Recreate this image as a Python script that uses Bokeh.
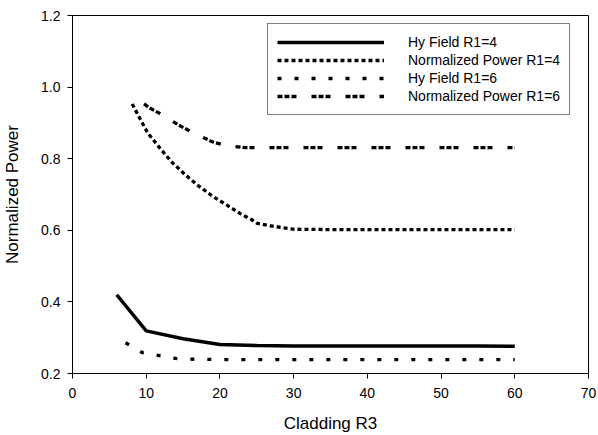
from bokeh.plotting import figure
from bokeh.embed import file_html
from bokeh.resources import INLINE
from bokeh.models import Range1d, FixedTicker, Legend, LegendItem

# Data
hy4_x = [6, 10, 15, 20, 25, 30, 35, 40, 45, 50, 55, 60]
hy4_y = [0.42, 0.319, 0.297, 0.281, 0.278, 0.277, 0.277, 0.277, 0.277, 0.277, 0.277, 0.276]

pw4_x = [8.1, 9.1, 10.2, 11.8, 13.4, 15.2, 17.1, 19.1, 21.2, 23.1, 24.2, 25.1, 27, 30, 35, 40, 45, 50, 55, 60]
pw4_y = [0.953, 0.914, 0.872, 0.831, 0.792, 0.757, 0.724, 0.694, 0.667, 0.642, 0.631, 0.619, 0.612, 0.603, 0.602, 0.602, 0.602, 0.602, 0.602, 0.602]

hy6_x = [7.2, 9.5, 12, 14, 16, 20, 25, 30, 35, 40, 45, 50, 55, 60]
hy6_y = [0.286, 0.258, 0.249, 0.242, 0.240, 0.239, 0.239, 0.239, 0.239, 0.239, 0.239, 0.239, 0.239, 0.239]

pw6_x = [9.7, 10.6, 11.7, 14.4, 16.4, 19, 21, 23.5, 30, 40, 50, 60]
pw6_y = [0.953, 0.94, 0.928, 0.894, 0.872, 0.847, 0.836, 0.831, 0.831, 0.831, 0.831, 0.831]

labels = ["Hy Field R1=4", "Normalized Power R1=4", "Hy Field R1=6", "Normalized Power R1=6"]
x_ticks = [0, 10, 20, 30, 40, 50, 60, 70]
y_ticks = [0.2, 0.4, 0.6, 0.8, 1.0, 1.2]

FONT = "Liberation Sans"

p = figure(width=598, height=435, output_backend="svg", toolbar_location=None,
           x_range=Range1d(0, 70), y_range=Range1d(0.2, 1.2),
           min_border_left=72, min_border_right=10, min_border_top=15, min_border_bottom=60)

p.xgrid.visible = False
p.ygrid.visible = False
p.outline_line_color = "black"
p.outline_line_width = 1
p.background_fill_color = "white"
p.border_fill_color = "white"

r1 = p.line(hy4_x, hy4_y, line_color="black", line_width=3.5)
r2 = p.line(pw4_x, pw4_y, line_color="black", line_width=3.3, line_dash="4 3")
r3 = p.line(hy6_x, hy6_y, line_color="black", line_width=3.3, line_dash="4 13")
r4 = p.line(pw6_x, pw6_y, line_color="black", line_width=3.3, line_dash="5 2 5 2 5 15")

for ax in (p.xaxis[0], p.yaxis[0]):
    ax.axis_line_color = "black"
    ax.major_tick_line_color = "black"
    ax.major_tick_out = 5
    ax.major_tick_in = 0
    ax.minor_tick_line_color = None
    ax.major_label_text_font = FONT
    ax.major_label_text_font_size = "14px"
    ax.major_label_text_color = "black"
    ax.axis_label_text_font = FONT
    ax.axis_label_text_font_size = "17px"
    ax.axis_label_text_font_style = "normal"
    ax.axis_label_text_color = "black"

p.xaxis[0].ticker = FixedTicker(ticks=x_ticks)
p.yaxis[0].ticker = FixedTicker(ticks=y_ticks)
p.yaxis[0].major_label_overrides = {v: f"{v:.1f}" for v in y_ticks}
p.xaxis[0].axis_label = "Cladding R3"
p.yaxis[0].axis_label = "Normalized Power"
p.xaxis[0].major_label_standoff = 9
p.yaxis[0].major_label_standoff = 7
p.xaxis[0].axis_label_standoff = 13
p.yaxis[0].axis_label_standoff = 16

legend = Legend(items=[LegendItem(label=l, renderers=[r]) for l, r in zip(labels, [r1, r2, r3, r4])],
                location=(195, 258))
legend.margin = 0
legend.padding = 9
legend.spacing = 0
legend.glyph_width = 107
legend.glyph_height = 18
legend.label_height = 18
legend.label_standoff = 24
legend.label_text_font = FONT
legend.label_text_font_size = "14px"
legend.label_text_color = "black"
legend.border_line_color = "black"
legend.border_line_width = 1.2
legend.background_fill_color = "white"
legend.background_fill_alpha = 1
p.add_layout(legend, "center")

open("out.html", "w").write(file_html(p, INLINE))
